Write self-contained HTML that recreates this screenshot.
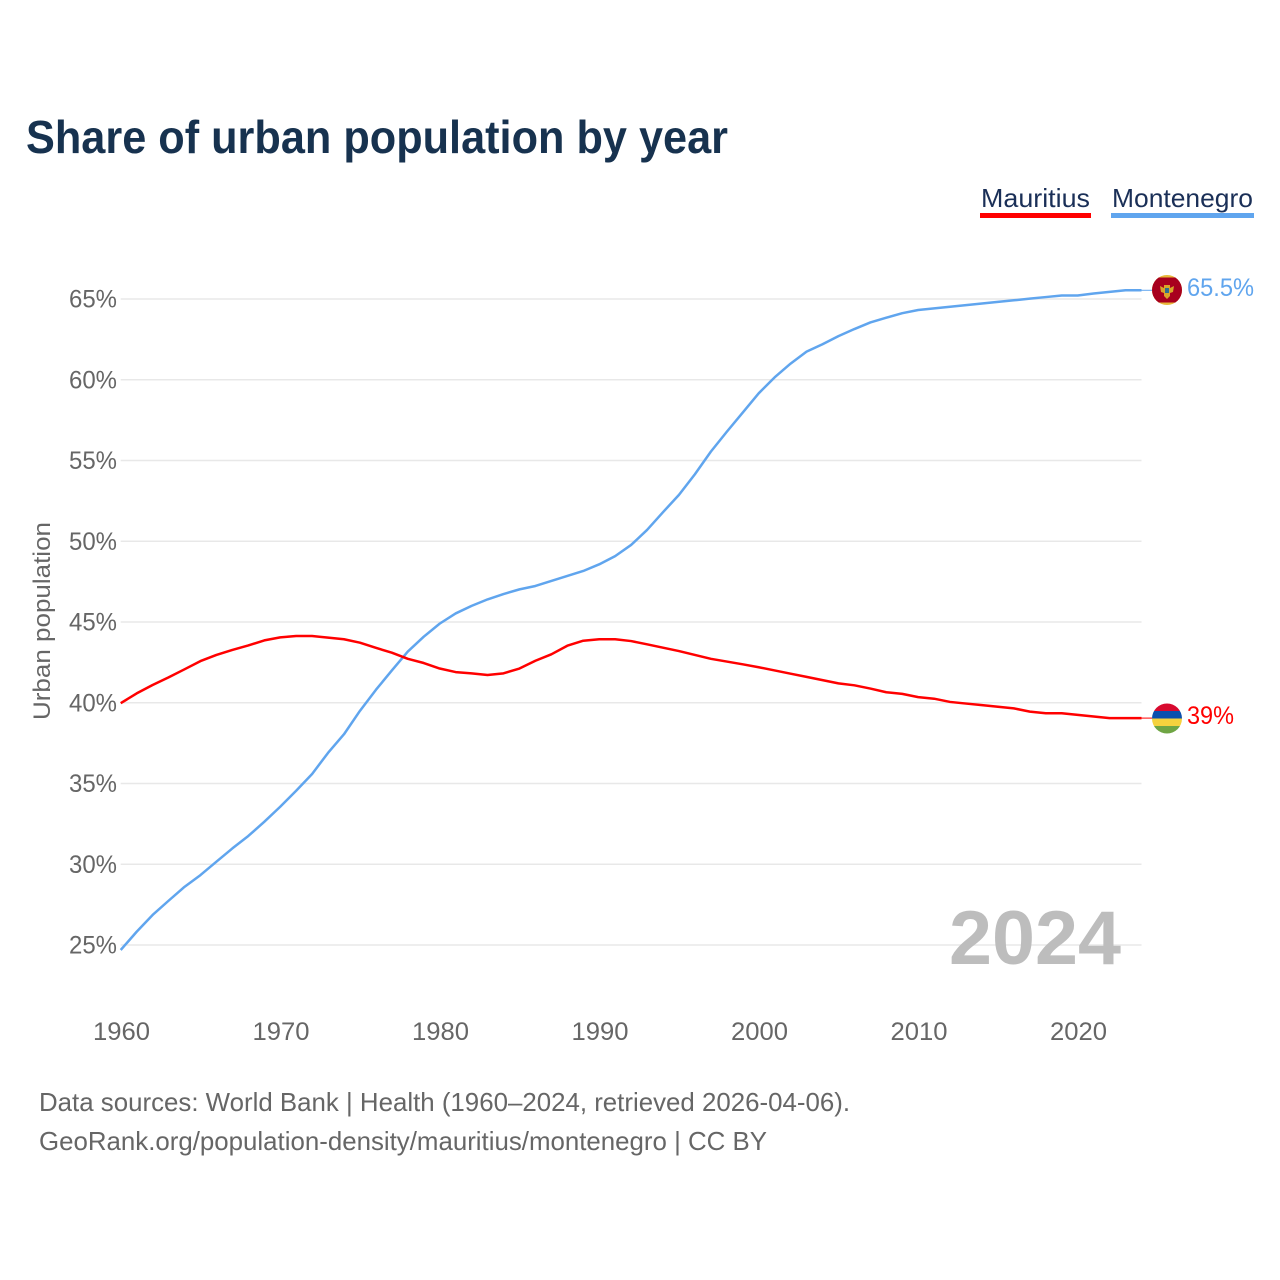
<!DOCTYPE html>
<html lang="en">
<head>
<meta charset="utf-8">
<title>Share of urban population by year</title>
<style>
html,body{margin:0;padding:0;background:#fff;width:1280px;height:1280px;overflow:hidden}
svg{display:block}
text{font-family:"Liberation Sans",sans-serif}
</style>
</head>
<body>
<svg id="chart" width="1280" height="1280" viewBox="0 0 1280 1280" xmlns="http://www.w3.org/2000/svg">
  <defs>
    <clipPath id="clip-me"><circle cx="1167" cy="290" r="15"/></clipPath>
    <clipPath id="clip-mu"><circle cx="1167" cy="718.5" r="15"/></clipPath>
  </defs>
  <rect width="1280" height="1280" fill="#fff"/>
  <text x="26" y="153" font-size="46" font-weight="700" fill="#17324f" textLength="702" lengthAdjust="spacingAndGlyphs">Share of urban population by year</text>

  <text x="981" y="207" font-size="26" fill="#1a2f57" textLength="109" lengthAdjust="spacingAndGlyphs">Mauritius</text>
  <rect x="980" y="213" width="111" height="5" fill="#ff0000"/>
  <text x="1112" y="207" font-size="26" fill="#1a2f57" textLength="141" lengthAdjust="spacingAndGlyphs">Montenegro</text>
  <rect x="1111" y="213" width="143" height="5" fill="#60a5ee"/>

  <g id="grid"></g>
  <g id="y-ticks"></g>
  <g id="x-ticks"></g>

  <text transform="translate(50 621) rotate(-90)" text-anchor="middle" font-size="24.5" fill="#666" textLength="198" lengthAdjust="spacingAndGlyphs">Urban population</text>
  <text x="949" y="964" font-size="76" font-weight="700" fill="#bdbdbd" textLength="172" lengthAdjust="spacingAndGlyphs">2024</text>

  <g id="series"></g>

  <g clip-path="url(#clip-me)">
    <rect x="1152" y="275" width="30" height="30" fill="#e8b93a"/>
    <rect x="1152" y="277.5" width="30" height="25" fill="#a8001e"/>
    <path d="M1160 286l4 2v-3h6v3l4-2-1 6-3 1v3l-3 3-3-3v-3l-3-1z" fill="#d9a52a"/>
    <rect x="1165" y="288" width="4" height="5" fill="#2f6f8f"/>
  </g>
  <g clip-path="url(#clip-mu)">
    <rect x="1152" y="703.5" width="30" height="7.5" fill="#d80a2f"/>
    <rect x="1152" y="711" width="30" height="7.5" fill="#0a4fae"/>
    <rect x="1152" y="718.5" width="30" height="7.5" fill="#f5d23e"/>
    <rect x="1152" y="726" width="30" height="7.5" fill="#6fa544"/>
  </g>

  <text x="1187" y="296" font-size="25" fill="#60a5ee" textLength="67" lengthAdjust="spacingAndGlyphs">65.5%</text>
  <text x="1187" y="724" font-size="25" fill="#ff0000" textLength="47" lengthAdjust="spacingAndGlyphs">39%</text>

  <text x="39" y="1111" font-size="26" fill="#666" textLength="811" lengthAdjust="spacingAndGlyphs">Data sources: World Bank | Health (1960–2024, retrieved 2026-04-06).</text>
  <text x="39" y="1150" font-size="26" fill="#666" textLength="728" lengthAdjust="spacingAndGlyphs">GeoRank.org/population-density/mauritius/montenegro | CC BY</text>
</svg>
<script>
const startYear = 1960;
const endYear = 2024;
const yTicks = [25, 30, 35, 40, 45, 50, 55, 60, 65];
const xTicks = [1960, 1970, 1980, 1990, 2000, 2010, 2020];
const mauritius = [
  39.97, 40.58, 41.10, 41.57, 42.07, 42.58, 42.96, 43.27, 43.55, 43.86,
  44.05, 44.13, 44.13, 44.03, 43.93, 43.72, 43.40, 43.10, 42.72, 42.46,
  42.12, 41.90, 41.82, 41.72, 41.82, 42.12, 42.60, 43.00, 43.53, 43.84,
  43.93, 43.93, 43.82, 43.62, 43.41, 43.20, 42.96, 42.72, 42.55, 42.38,
  42.20, 42.00, 41.80, 41.60, 41.40, 41.20, 41.08, 40.88, 40.65, 40.55,
  40.35, 40.25, 40.05, 39.95, 39.85, 39.75, 39.65, 39.45, 39.35, 39.35,
  39.25, 39.15, 39.05, 39.05, 39.05
];
const montenegro = [
  24.69, 25.82, 26.86, 27.74, 28.60, 29.33, 30.16, 30.98, 31.75, 32.63,
  33.56, 34.55, 35.59, 36.90, 38.05, 39.50, 40.80, 42.00, 43.17, 44.09,
  44.90, 45.53, 46.00, 46.40, 46.73, 47.02, 47.23, 47.54, 47.85, 48.16,
  48.57, 49.08, 49.77, 50.70, 51.80, 52.87, 54.15, 55.55, 56.78, 57.97,
  59.16, 60.15, 61.00, 61.74, 62.20, 62.70, 63.14, 63.55, 63.84, 64.12,
  64.32, 64.42, 64.52, 64.62, 64.72, 64.82, 64.92, 65.02, 65.12, 65.22,
  65.22, 65.34, 65.44, 65.54, 65.54
];

const SVG_NS = 'http://www.w3.org/2000/svg';
const xLeft = 120.7, xRight = 1141.5, yAt25 = 945, yAt65 = 299;
function xScale(year) {
  return xLeft + (year - startYear) * (xRight - xLeft) / (endYear - startYear);
}
function yScale(value) {
  return yAt25 + (value - 25) * (yAt65 - yAt25) / 40;
}

const gridGroup = document.getElementById('grid');
const yTickGroup = document.getElementById('y-ticks');
const xTickGroup = document.getElementById('x-ticks');
const seriesGroup = document.getElementById('series');

yTicks.forEach(function (tick) {
  const line = document.createElementNS(SVG_NS, 'line');
  
  
  line.setAttribute('x1', xLeft);
  line.setAttribute('x2', xRight);
  line.setAttribute('y1', yScale(tick));
  line.setAttribute('y2', yScale(tick));
  line.setAttribute('stroke', '#e8e8e8');
  line.setAttribute('stroke-width', '1.4');
  gridGroup.appendChild(line);

  const label = document.createElementNS(SVG_NS, 'text');
  
  
  label.setAttribute('x', 69);
  label.setAttribute('y', yScale(tick) + 8.5);
  label.setAttribute('font-size', '25');
  label.setAttribute('fill', '#666');
  label.setAttribute('textLength', '48');
  label.setAttribute('lengthAdjust', 'spacingAndGlyphs');
  label.textContent = tick + '%';
  yTickGroup.appendChild(label);
});

xTicks.forEach(function (tick) {
  const label = document.createElementNS(SVG_NS, 'text');
  
  
  label.setAttribute('x', xScale(tick) + 0.8);
  label.setAttribute('y', 1040);
  label.setAttribute('text-anchor', 'middle');
  label.setAttribute('font-size', '25');
  label.setAttribute('fill', '#666');
  label.setAttribute('textLength', '57');
  label.setAttribute('lengthAdjust', 'spacingAndGlyphs');
  label.textContent = tick;
  xTickGroup.appendChild(label);
});

function seriesPoints(values) {
  return values.map(function (value, i) {
    return xScale(startYear + i).toFixed(2) + ',' + yScale(value).toFixed(2);
  }).join(' ');
}

const montenegroLine = document.createElementNS(SVG_NS, 'polyline');


montenegroLine.setAttribute('points', seriesPoints(montenegro));
montenegroLine.setAttribute('fill', 'none');
montenegroLine.setAttribute('stroke', '#60a5ee');
montenegroLine.setAttribute('stroke-width', '2.5');
montenegroLine.setAttribute('stroke-linejoin', 'round');
seriesGroup.appendChild(montenegroLine);

const mauritiusLine = document.createElementNS(SVG_NS, 'polyline');


mauritiusLine.setAttribute('points', seriesPoints(mauritius));
mauritiusLine.setAttribute('fill', 'none');
mauritiusLine.setAttribute('stroke', '#ff0000');
mauritiusLine.setAttribute('stroke-width', '2.5');
mauritiusLine.setAttribute('stroke-linejoin', 'round');
seriesGroup.appendChild(mauritiusLine);

const montenegroLeader = document.createElementNS(SVG_NS, 'line');


montenegroLeader.setAttribute('x1', xRight);
montenegroLeader.setAttribute('x2', 1152);
montenegroLeader.setAttribute('y1', yScale(montenegro[montenegro.length - 1]));
montenegroLeader.setAttribute('y2', yScale(montenegro[montenegro.length - 1]));
montenegroLeader.setAttribute('stroke', '#60a5ee');
montenegroLeader.setAttribute('stroke-width', '1');
seriesGroup.appendChild(montenegroLeader);

const mauritiusLeader = document.createElementNS(SVG_NS, 'line');


mauritiusLeader.setAttribute('x1', xRight);
mauritiusLeader.setAttribute('x2', 1152);
mauritiusLeader.setAttribute('y1', yScale(mauritius[mauritius.length - 1]));
mauritiusLeader.setAttribute('y2', yScale(mauritius[mauritius.length - 1]));
mauritiusLeader.setAttribute('stroke', '#ff0000');
mauritiusLeader.setAttribute('stroke-width', '1');
seriesGroup.appendChild(mauritiusLeader);
</script>
</body>
</html>
